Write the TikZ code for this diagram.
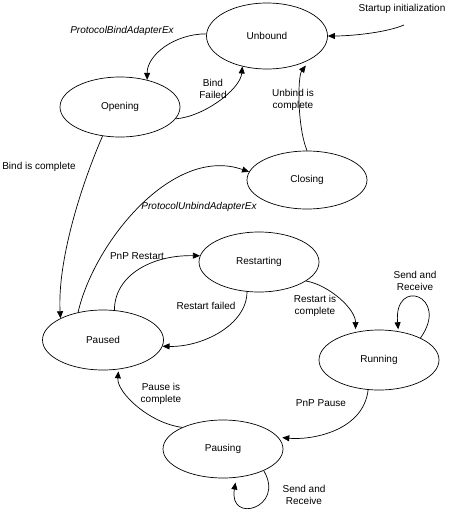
\documentclass[tikz,border=0pt]{standalone}
\usepackage{fontspec}
\setmainfont{Liberation Sans}
\usetikzlibrary{shapes.geometric,arrows.meta}
\begin{document}
\begin{tikzpicture}[x=1pt,y=1pt,
  state/.style={ellipse,draw,line width=0.7pt,minimum width=120pt,minimum height=60pt,inner sep=0pt,font=\fontsize{10}{12}\selectfont},
  edge/.style={line width=0.7pt,-{Triangle[length=7pt,width=6pt]}},
  lbl/.style={font=\fontsize{10}{12.5}\selectfont,align=center,inner sep=0pt},
  ilbl/.style={font=\fontsize{10}{12.5}\selectfont\itshape,align=center,inner sep=0pt}]
\useasboundingbox (0,0) rectangle (450,-514);
% states
\node[state,minimum width=121pt,minimum height=66pt] (U) at (267,-36) {Unbound};
\node[state] (O) at (120,-107) {Opening};
\node[state,minimum height=58pt] (C) at (307,-180) {Closing};
\node[state] (R) at (259,-262) {Restarting};
\node[state,minimum width=121pt] (P) at (103,-340) {Paused};
\node[state] (N) at (379,-360) {Running};
\node[state,minimum height=58pt] (S) at (223,-449) {Pausing};
% start
\coordinate (start) at (404,-25);
\node[lbl] (tstart) at (402,-9) {Startup initialization};
\draw[edge] (start) .. controls +(-19,-8) and +(22,0) .. (U.east);
% Unbound -> Opening
\draw[edge] (U.178) .. controls +(-32,0) and +(0,25) .. (O.45);
\node[ilbl] (t1) at (122,-31) {ProtocolBindAdapterEx};
% Opening -> Unbound
\draw[edge] (O.-12) .. controls +(28,2) and +(-2,-23) .. (U.231);
\node[lbl] (t2) at (213,-89) {Bind\\Failed};
% Closing -> Unbound
\draw[edge,shorten >=8pt] (C.north) .. controls +(-10,25) and +(-13,-17) .. (U.-28);
\node[lbl] (t3) at (293,-100) {Unbind is\\complete};
% Opening -> Paused
\draw[edge] (O.239) .. controls +(-23,-53) and +(-3,56) .. (P.153);
\node[lbl] (t4) at (39,-167) {Bind is complete};
% Paused -> Closing
\draw[edge] (P.132) .. controls +(16,70) and +(-76,27) .. (C.172);
\node[ilbl] (t5) at (199,-207) {ProtocolUnbindAdapterEx};
% Paused -> Restarting
\draw[edge] (P.69) .. controls +(0,35) and +(-48,1) .. (R.174);
\node[lbl] (t6) at (137,-256) {PnP Restart};
% Restarting -> Paused
\draw[edge] (R.248) .. controls +(0,-33) and +(40,-1) .. (P.-6);
\node[lbl] (t7) at (206,-306) {Restart failed};
% Restarting -> Running
\draw[edge,shorten >=3pt] (R.-22) .. controls +(23,-4) and +(0,23) .. (N.130);
\node[lbl] (t8) at (315,-306) {Restart is\\complete};
% Running self loop
\draw[edge,shorten >=2pt] (N.28) .. controls +(30,42) and +(-5,55) .. (N.56);
\node[lbl] (t9) at (415,-281) {Send and\\Receive};
% Running -> Pausing
\draw[edge,shorten >=4pt] (N.250) .. controls +(-5,-42) and +(32,-3) .. (S.12);
\node[lbl] (t10) at (321,-403) {PnP Pause};
% Pausing -> Paused
\draw[edge,shorten >=2pt] (S.152) .. controls +(-33,4) and +(-2,-23) .. (P.298);
\node[lbl] (t11) at (161,-394) {Pause is\\complete};
% Pausing self loop
\draw[edge,shorten >=5pt] (S.-28) .. controls +(22,-37) and +(-8,-47) .. (S.-65);
\node[lbl] (t12) at (304,-495) {Send and\\Receive};
\end{tikzpicture}
\end{document}
